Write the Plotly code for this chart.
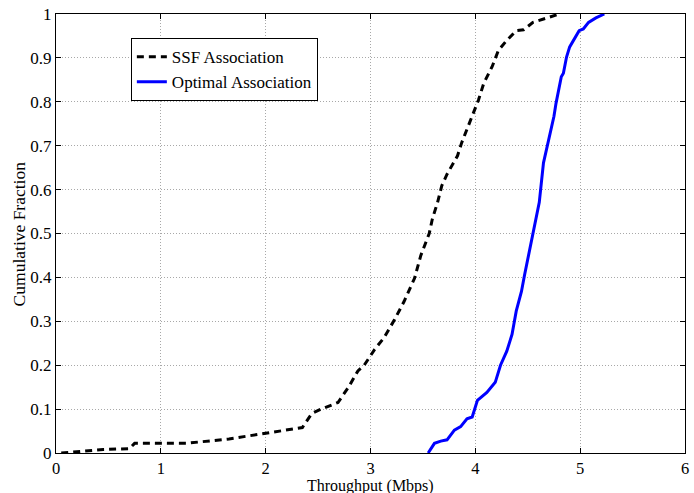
import plotly.graph_objects as go

ssf_x = [0.05, 0.45, 0.70, 0.75, 1.24, 1.65, 2.00, 2.19, 2.35, 2.44, 2.53, 2.69, 2.79, 2.88, 2.94,
         3.04, 3.13, 3.23, 3.32, 3.42, 3.48, 3.56, 3.59, 3.64, 3.68, 3.73, 3.83, 3.87, 3.92, 3.98,
         4.03, 4.08, 4.16, 4.22, 4.30, 4.39, 4.46, 4.55, 4.68, 4.80]
ssf_y = [0.0, 0.008, 0.01, 0.022, 0.022, 0.032, 0.045, 0.052, 0.058, 0.09, 0.10, 0.115, 0.15, 0.187, 0.20,
         0.236, 0.263, 0.304, 0.345, 0.398, 0.45, 0.50, 0.533, 0.571, 0.609, 0.635, 0.677, 0.707, 0.737, 0.774,
         0.804, 0.842, 0.88, 0.917, 0.94, 0.962, 0.964, 0.981, 0.991, 1.0]

opt_x = [3.55, 3.61, 3.67, 3.73, 3.80, 3.86, 3.92, 3.97, 4.02, 4.11, 4.19, 4.24, 4.30, 4.35, 4.39,
         4.44, 4.47, 4.50, 4.54, 4.61, 4.65, 4.68, 4.73, 4.75, 4.77, 4.82, 4.84, 4.87, 4.90, 4.95,
         4.99, 5.03, 5.08, 5.15, 5.23]
opt_y = [0.0, 0.022, 0.027, 0.03, 0.052, 0.06, 0.078, 0.082, 0.12, 0.138, 0.161, 0.2, 0.232, 0.27, 0.323,
         0.368, 0.406, 0.443, 0.488, 0.571, 0.661, 0.691, 0.744, 0.767, 0.797, 0.857, 0.865, 0.902, 0.925, 0.947,
         0.962, 0.966, 0.981, 0.991, 1.0]

x_ticks = [0, 1, 2, 3, 4, 5, 6]
y_ticks = [0, 0.1, 0.2, 0.3, 0.4, 0.5, 0.6, 0.7, 0.8, 0.9, 1]
y_tick_text = ["0", "0.1", "0.2", "0.3", "0.4", "0.5", "0.6", "0.7", "0.8", "0.9", "1"]

x_title = "Throughput (Mbps)"
y_title = "Cumulative Fraction"

font_family = "Liberation Serif, Times New Roman, serif"

fig = go.Figure()
fig.add_trace(go.Scatter(x=ssf_x, y=ssf_y, mode="lines", name="SSF Association",
                         line=dict(color="black", width=3, dash="7px,5px")))
fig.add_trace(go.Scatter(x=opt_x, y=opt_y, mode="lines", name="Optimal Association",
                         line=dict(color="blue", width=3)))

axis_common = dict(showline=True, linecolor="black", linewidth=1, mirror="ticks",
                   ticks="inside", ticklen=5, tickcolor="black",
                   showgrid=True, gridcolor="#a8a8a8", griddash="1px,2px", gridwidth=1,
                   zeroline=False)

fig.update_xaxes(range=[0, 6], tickvals=x_ticks, ticktext=[str(v) for v in x_ticks],
                 tickfont=dict(family=font_family, size=16.5, color="black"), **axis_common)
fig.update_yaxes(range=[0, 1], tickvals=y_ticks, ticktext=y_tick_text,
                 tickfont=dict(family=font_family, size=17, color="black"), **axis_common)

fig.add_annotation(text=x_title, xref="paper", yref="paper", x=0.5, y=-0.0745,
                   xanchor="center", yanchor="middle", showarrow=False,
                   font=dict(family=font_family, size=16, color="black"))
fig.add_annotation(text=y_title, xref="paper", yref="paper", x=-0.059, y=0.5,
                   xanchor="center", yanchor="middle", textangle=-90, showarrow=False,
                   font=dict(family=font_family, size=17.5, color="black"))

fig.update_layout(
    width=694, height=493,
    margin=dict(l=55.5, r=4.7, t=10, b=40),
    paper_bgcolor="white", plot_bgcolor="white",
    font=dict(family=font_family, size=17, color="black"),
    legend=dict(x=0.119, y=0.945, xanchor="left", yanchor="top",
                bordercolor="black", borderwidth=1, bgcolor="white",
                font=dict(family=font_family, size=17, color="black"),
                tracegroupgap=0, itemwidth=30),
    showlegend=True,
)

fig.write_html("out.html")
